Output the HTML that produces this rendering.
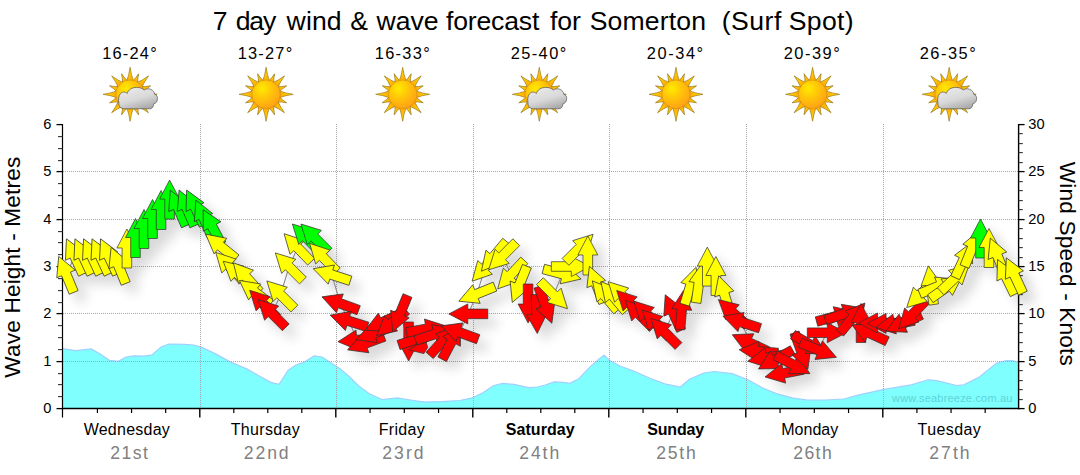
<!DOCTYPE html>
<html><head><meta charset="utf-8"><title>7 day wind & wave forecast</title>
<style>
html,body{margin:0;padding:0;background:#fff;}
body{width:1080px;height:475px;overflow:hidden;position:relative;font-family:"Liberation Sans",sans-serif;}
svg{position:absolute;left:0;top:0;}
text{font-family:"Liberation Sans",sans-serif;}
</style></head><body>
<svg width="1080" height="475" viewBox="0 0 1080 475">
<defs>
<radialGradient id="sung" cx="0.36" cy="0.30" r="0.78">
<stop offset="0" stop-color="#ffea00"/><stop offset="0.4" stop-color="#ffc808"/><stop offset="1" stop-color="#ff9c18"/>
</radialGradient>
<linearGradient id="ray" x1="0" y1="1" x2="0" y2="0">
<stop offset="0" stop-color="#ffa800"/><stop offset="1" stop-color="#ffe000"/>
</linearGradient>
<linearGradient id="cloudg" x1="0.2" y1="0" x2="0.7" y2="1">
<stop offset="0" stop-color="#ebebeb"/><stop offset="0.55" stop-color="#d8d8d8"/><stop offset="1" stop-color="#a8a8a8"/>
</linearGradient>
<filter id="sh" x="-5%" y="-20%" width="110%" height="150%">
<feGaussianBlur in="SourceAlpha" stdDeviation="6" result="b"/>
<feOffset in="b" dx="9" dy="9" result="o"/>
<feComponentTransfer in="o" result="s"><feFuncA type="linear" slope="0.15"/></feComponentTransfer>
<feMerge><feMergeNode in="s"/><feMergeNode in="SourceGraphic"/></feMerge>
</filter>
</defs>
<rect width="1080" height="475" fill="#fff"/>

<polygon points="63,408.5 63,348.7 62.6,348.7 75.6,350.7 91.1,348.9 100.2,353.9 109.3,360.3 118.3,361.4 126.1,357.2 133.9,355.9 144.3,356.2 152,354.9 161.1,346.9 168.9,344 184.5,344.3 193.5,345 201.3,347.1 215.6,353.9 231.1,362.4 246.7,368.9 259.6,376.2 271.3,382.6 279.1,384.4 288.2,370.2 295.9,365 303.7,362.4 314.1,355.9 321.9,357 330.9,362.7 340.4,368.9 349.4,376.7 358.5,385.7 368.9,393.5 381.9,399.5 397.4,397.9 410.4,400 424.6,402.1 441.5,401.6 459.6,400.5 471.3,398.2 483,392.7 493.3,385.7 502.4,383.4 514.1,384.4 528.3,387.6 537.4,387 545.2,385 554.3,381.9 563.3,382.4 569.8,383.4 578.9,378.7 589.3,367.6 599.6,358.5 604.1,355.2 610.4,361.1 620.7,366.3 633.7,371 649.3,378 664.8,383.9 680.4,387 689.4,379.3 703.7,373 714.1,371.5 732.2,373.6 747.8,379.8 763.3,388.3 776.3,393.5 791.9,397.9 807.4,400 825.6,400 843.7,399 859.3,394.8 882.7,389.7 911.2,384.9 928.2,379.8 936.7,380.6 956.6,385.5 963.8,384.9 979.4,377 996.4,363.3 1006.4,360.5 1013.5,360.8 1018.5,362.7 1018.3,408.5" fill="#80ffff"/>
<polyline points="62.6,348.7 75.6,350.7 91.1,348.9 100.2,353.9 109.3,360.3 118.3,361.4 126.1,357.2 133.9,355.9 144.3,356.2 152,354.9 161.1,346.9 168.9,344 184.5,344.3 193.5,345 201.3,347.1 215.6,353.9 231.1,362.4 246.7,368.9 259.6,376.2 271.3,382.6 279.1,384.4 288.2,370.2 295.9,365 303.7,362.4 314.1,355.9 321.9,357 330.9,362.7 340.4,368.9 349.4,376.7 358.5,385.7 368.9,393.5 381.9,399.5 397.4,397.9 410.4,400 424.6,402.1 441.5,401.6 459.6,400.5 471.3,398.2 483,392.7 493.3,385.7 502.4,383.4 514.1,384.4 528.3,387.6 537.4,387 545.2,385 554.3,381.9 563.3,382.4 569.8,383.4 578.9,378.7 589.3,367.6 599.6,358.5 604.1,355.2 610.4,361.1 620.7,366.3 633.7,371 649.3,378 664.8,383.9 680.4,387 689.4,379.3 703.7,373 714.1,371.5 732.2,373.6 747.8,379.8 763.3,388.3 776.3,393.5 791.9,397.9 807.4,400 825.6,400 843.7,399 859.3,394.8 882.7,389.7 911.2,384.9 928.2,379.8 936.7,380.6 956.6,385.5 963.8,384.9 979.4,377 996.4,363.3 1006.4,360.5 1013.5,360.8 1018.5,362.7" fill="none" stroke="#9fd0ff" stroke-width="1.2"/>
<text x="892.02" y="402" font-size="11" textLength="120.40" lengthAdjust="spacing" fill="#5fd3d8">www.seabreeze.com.au</text>
<line x1="63" y1="361.5" x2="1018" y2="361.5" stroke="#a8a8a8" stroke-width="1" stroke-dasharray="1 1"/>
<line x1="63" y1="313.5" x2="1018" y2="313.5" stroke="#a8a8a8" stroke-width="1" stroke-dasharray="1 1"/>
<line x1="63" y1="266.5" x2="1018" y2="266.5" stroke="#a8a8a8" stroke-width="1" stroke-dasharray="1 1"/>
<line x1="63" y1="219.5" x2="1018" y2="219.5" stroke="#a8a8a8" stroke-width="1" stroke-dasharray="1 1"/>
<line x1="63" y1="171.5" x2="1018" y2="171.5" stroke="#a8a8a8" stroke-width="1" stroke-dasharray="1 1"/>
<line x1="200.5" y1="124" x2="200.5" y2="408" stroke="#a8a8a8" stroke-width="1" stroke-dasharray="1 1"/>
<line x1="336.5" y1="124" x2="336.5" y2="408" stroke="#a8a8a8" stroke-width="1" stroke-dasharray="1 1"/>
<line x1="473.5" y1="124" x2="473.5" y2="408" stroke="#a8a8a8" stroke-width="1" stroke-dasharray="1 1"/>
<line x1="609.5" y1="124" x2="609.5" y2="408" stroke="#a8a8a8" stroke-width="1" stroke-dasharray="1 1"/>
<line x1="746.5" y1="124" x2="746.5" y2="408" stroke="#a8a8a8" stroke-width="1" stroke-dasharray="1 1"/>
<line x1="883.5" y1="124" x2="883.5" y2="408" stroke="#a8a8a8" stroke-width="1" stroke-dasharray="1 1"/>
<line x1="62.5" y1="124.0" x2="62.5" y2="417.5" stroke="#000" stroke-width="1.2"/>
<line x1="1018.6" y1="124.0" x2="1018.6" y2="409.2" stroke="#000" stroke-width="1.4"/>
<line x1="61.8" y1="408.5" x2="1019.3000000000001" y2="408.5" stroke="#000" stroke-width="1.5"/>
<line x1="56.5" y1="408.6" x2="62.5" y2="408.6" stroke="#000" stroke-width="1.3"/>
<text x="51.5" y="412.9" font-size="14.67" text-anchor="end" fill="#000">0</text>
<line x1="58.0" y1="396.6" x2="62.5" y2="396.6" stroke="#333" stroke-width="1.1"/>
<line x1="58.0" y1="384.6" x2="62.5" y2="384.6" stroke="#333" stroke-width="1.1"/>
<line x1="58.0" y1="373.6" x2="62.5" y2="373.6" stroke="#333" stroke-width="1.1"/>
<line x1="56.5" y1="361.6" x2="62.5" y2="361.6" stroke="#000" stroke-width="1.3"/>
<text x="51.5" y="365.9" font-size="14.67" text-anchor="end" fill="#000">1</text>
<line x1="58.0" y1="349.6" x2="62.5" y2="349.6" stroke="#333" stroke-width="1.1"/>
<line x1="58.0" y1="337.6" x2="62.5" y2="337.6" stroke="#333" stroke-width="1.1"/>
<line x1="58.0" y1="325.6" x2="62.5" y2="325.6" stroke="#333" stroke-width="1.1"/>
<line x1="56.5" y1="313.6" x2="62.5" y2="313.6" stroke="#000" stroke-width="1.3"/>
<text x="51.5" y="317.9" font-size="14.67" text-anchor="end" fill="#000">2</text>
<line x1="58.0" y1="302.6" x2="62.5" y2="302.6" stroke="#333" stroke-width="1.1"/>
<line x1="58.0" y1="290.6" x2="62.5" y2="290.6" stroke="#333" stroke-width="1.1"/>
<line x1="58.0" y1="278.6" x2="62.5" y2="278.6" stroke="#333" stroke-width="1.1"/>
<line x1="56.5" y1="266.6" x2="62.5" y2="266.6" stroke="#000" stroke-width="1.3"/>
<text x="51.5" y="270.9" font-size="14.67" text-anchor="end" fill="#000">3</text>
<line x1="58.0" y1="254.6" x2="62.5" y2="254.6" stroke="#333" stroke-width="1.1"/>
<line x1="58.0" y1="242.6" x2="62.5" y2="242.6" stroke="#333" stroke-width="1.1"/>
<line x1="58.0" y1="231.6" x2="62.5" y2="231.6" stroke="#333" stroke-width="1.1"/>
<line x1="56.5" y1="219.6" x2="62.5" y2="219.6" stroke="#000" stroke-width="1.3"/>
<text x="51.5" y="223.9" font-size="14.67" text-anchor="end" fill="#000">4</text>
<line x1="58.0" y1="207.6" x2="62.5" y2="207.6" stroke="#333" stroke-width="1.1"/>
<line x1="58.0" y1="195.6" x2="62.5" y2="195.6" stroke="#333" stroke-width="1.1"/>
<line x1="58.0" y1="183.6" x2="62.5" y2="183.6" stroke="#333" stroke-width="1.1"/>
<line x1="56.5" y1="171.6" x2="62.5" y2="171.6" stroke="#000" stroke-width="1.3"/>
<text x="51.5" y="175.9" font-size="14.67" text-anchor="end" fill="#000">5</text>
<line x1="58.0" y1="160.6" x2="62.5" y2="160.6" stroke="#333" stroke-width="1.1"/>
<line x1="58.0" y1="148.6" x2="62.5" y2="148.6" stroke="#333" stroke-width="1.1"/>
<line x1="58.0" y1="136.6" x2="62.5" y2="136.6" stroke="#333" stroke-width="1.1"/>
<line x1="56.5" y1="124.6" x2="62.5" y2="124.6" stroke="#000" stroke-width="1.3"/>
<text x="51.5" y="128.9" font-size="14.67" text-anchor="end" fill="#000">6</text>
<line x1="1018.6" y1="408.6" x2="1024.6" y2="408.6" stroke="#000" stroke-width="1.3"/>
<text x="1028.3" y="412.9" font-size="14.67" fill="#000">0</text>
<line x1="1018.6" y1="399.6" x2="1022.8000000000001" y2="399.6" stroke="#333" stroke-width="1.1"/>
<line x1="1018.6" y1="389.6" x2="1022.8000000000001" y2="389.6" stroke="#333" stroke-width="1.1"/>
<line x1="1018.6" y1="380.6" x2="1022.8000000000001" y2="380.6" stroke="#333" stroke-width="1.1"/>
<line x1="1018.6" y1="370.6" x2="1022.8000000000001" y2="370.6" stroke="#333" stroke-width="1.1"/>
<line x1="1018.6" y1="361.6" x2="1024.6" y2="361.6" stroke="#000" stroke-width="1.3"/>
<text x="1028.3" y="365.9" font-size="14.67" fill="#000">5</text>
<line x1="1018.6" y1="351.6" x2="1022.8000000000001" y2="351.6" stroke="#333" stroke-width="1.1"/>
<line x1="1018.6" y1="342.6" x2="1022.8000000000001" y2="342.6" stroke="#333" stroke-width="1.1"/>
<line x1="1018.6" y1="332.6" x2="1022.8000000000001" y2="332.6" stroke="#333" stroke-width="1.1"/>
<line x1="1018.6" y1="323.6" x2="1022.8000000000001" y2="323.6" stroke="#333" stroke-width="1.1"/>
<line x1="1018.6" y1="313.6" x2="1024.6" y2="313.6" stroke="#000" stroke-width="1.3"/>
<text x="1028.3" y="317.9" font-size="14.67" fill="#000">10</text>
<line x1="1018.6" y1="304.6" x2="1022.8000000000001" y2="304.6" stroke="#333" stroke-width="1.1"/>
<line x1="1018.6" y1="294.6" x2="1022.8000000000001" y2="294.6" stroke="#333" stroke-width="1.1"/>
<line x1="1018.6" y1="285.6" x2="1022.8000000000001" y2="285.6" stroke="#333" stroke-width="1.1"/>
<line x1="1018.6" y1="275.6" x2="1022.8000000000001" y2="275.6" stroke="#333" stroke-width="1.1"/>
<line x1="1018.6" y1="266.6" x2="1024.6" y2="266.6" stroke="#000" stroke-width="1.3"/>
<text x="1028.3" y="270.9" font-size="14.67" fill="#000">15</text>
<line x1="1018.6" y1="257.6" x2="1022.8000000000001" y2="257.6" stroke="#333" stroke-width="1.1"/>
<line x1="1018.6" y1="247.6" x2="1022.8000000000001" y2="247.6" stroke="#333" stroke-width="1.1"/>
<line x1="1018.6" y1="238.6" x2="1022.8000000000001" y2="238.6" stroke="#333" stroke-width="1.1"/>
<line x1="1018.6" y1="228.6" x2="1022.8000000000001" y2="228.6" stroke="#333" stroke-width="1.1"/>
<line x1="1018.6" y1="219.6" x2="1024.6" y2="219.6" stroke="#000" stroke-width="1.3"/>
<text x="1028.3" y="223.9" font-size="14.67" fill="#000">20</text>
<line x1="1018.6" y1="209.6" x2="1022.8000000000001" y2="209.6" stroke="#333" stroke-width="1.1"/>
<line x1="1018.6" y1="200.6" x2="1022.8000000000001" y2="200.6" stroke="#333" stroke-width="1.1"/>
<line x1="1018.6" y1="190.6" x2="1022.8000000000001" y2="190.6" stroke="#333" stroke-width="1.1"/>
<line x1="1018.6" y1="181.6" x2="1022.8000000000001" y2="181.6" stroke="#333" stroke-width="1.1"/>
<line x1="1018.6" y1="171.6" x2="1024.6" y2="171.6" stroke="#000" stroke-width="1.3"/>
<text x="1028.3" y="175.9" font-size="14.67" fill="#000">25</text>
<line x1="1018.6" y1="162.6" x2="1022.8000000000001" y2="162.6" stroke="#333" stroke-width="1.1"/>
<line x1="1018.6" y1="152.6" x2="1022.8000000000001" y2="152.6" stroke="#333" stroke-width="1.1"/>
<line x1="1018.6" y1="143.6" x2="1022.8000000000001" y2="143.6" stroke="#333" stroke-width="1.1"/>
<line x1="1018.6" y1="133.6" x2="1022.8000000000001" y2="133.6" stroke="#333" stroke-width="1.1"/>
<line x1="1018.6" y1="124.6" x2="1024.6" y2="124.6" stroke="#000" stroke-width="1.3"/>
<text x="1028.3" y="128.9" font-size="14.67" fill="#000">30</text>
<line x1="97.425" y1="408.5" x2="97.425" y2="413.0" stroke="#000" stroke-width="1.2"/>
<line x1="131.55" y1="408.5" x2="131.55" y2="413.0" stroke="#000" stroke-width="1.2"/>
<line x1="165.675" y1="408.5" x2="165.675" y2="413.0" stroke="#000" stroke-width="1.2"/>
<line x1="199.8" y1="408.5" x2="199.8" y2="417.5" stroke="#000" stroke-width="1.4"/>
<line x1="233.8" y1="408.5" x2="233.8" y2="413.0" stroke="#000" stroke-width="1.2"/>
<line x1="267.8" y1="408.5" x2="267.8" y2="413.0" stroke="#000" stroke-width="1.2"/>
<line x1="301.8" y1="408.5" x2="301.8" y2="413.0" stroke="#000" stroke-width="1.2"/>
<line x1="335.8" y1="408.5" x2="335.8" y2="417.5" stroke="#000" stroke-width="1.4"/>
<line x1="370.05" y1="408.5" x2="370.05" y2="413.0" stroke="#000" stroke-width="1.2"/>
<line x1="404.3" y1="408.5" x2="404.3" y2="413.0" stroke="#000" stroke-width="1.2"/>
<line x1="438.55" y1="408.5" x2="438.55" y2="413.0" stroke="#000" stroke-width="1.2"/>
<line x1="472.8" y1="408.5" x2="472.8" y2="417.5" stroke="#000" stroke-width="1.4"/>
<line x1="506.8" y1="408.5" x2="506.8" y2="413.0" stroke="#000" stroke-width="1.2"/>
<line x1="540.8" y1="408.5" x2="540.8" y2="413.0" stroke="#000" stroke-width="1.2"/>
<line x1="574.8" y1="408.5" x2="574.8" y2="413.0" stroke="#000" stroke-width="1.2"/>
<line x1="608.8" y1="408.5" x2="608.8" y2="417.5" stroke="#000" stroke-width="1.4"/>
<line x1="643.05" y1="408.5" x2="643.05" y2="413.0" stroke="#000" stroke-width="1.2"/>
<line x1="677.3" y1="408.5" x2="677.3" y2="413.0" stroke="#000" stroke-width="1.2"/>
<line x1="711.55" y1="408.5" x2="711.55" y2="413.0" stroke="#000" stroke-width="1.2"/>
<line x1="745.8" y1="408.5" x2="745.8" y2="417.5" stroke="#000" stroke-width="1.4"/>
<line x1="780.05" y1="408.5" x2="780.05" y2="413.0" stroke="#000" stroke-width="1.2"/>
<line x1="814.3" y1="408.5" x2="814.3" y2="413.0" stroke="#000" stroke-width="1.2"/>
<line x1="848.55" y1="408.5" x2="848.55" y2="413.0" stroke="#000" stroke-width="1.2"/>
<line x1="882.8" y1="408.5" x2="882.8" y2="417.5" stroke="#000" stroke-width="1.4"/>
<line x1="916.925" y1="408.5" x2="916.925" y2="413.0" stroke="#000" stroke-width="1.2"/>
<line x1="951.05" y1="408.5" x2="951.05" y2="413.0" stroke="#000" stroke-width="1.2"/>
<line x1="985.175" y1="408.5" x2="985.175" y2="413.0" stroke="#000" stroke-width="1.2"/>
<g filter="url(#sh)">
<polyline points="66.2,274.4 74.7,256.5 83.2,256.5 91.8,256.5 100.3,256.5 108.8,256.5 118.4,265.4 126.9,248.5 135.5,238.0 144.0,229.0 152.5,219.0 161.1,210.0 169.6,199.6 178.1,208.0 186.7,208.0 195.2,207.6 203.7,218.0 212.3,226.9 220.8,246.4 229.3,266.4 237.9,274.1 246.4,277.3 255.0,292.2 263.5,304.1 272.0,313.5 280.6,294.7 289.1,266.7 297.6,247.7 306.2,237.8 314.7,237.8 323.2,257.4 331.8,274.7 340.3,303.5 348.8,321.0 357.4,340.0 365.9,343.2 374.5,333.0 383.0,322.0 391.5,323.0 400.1,313.6 408.6,341.5 417.1,339.0 425.7,329.0 434.2,334.3 442.7,340.9 451.3,342.0 459.8,332.5 468.3,313.9 476.9,293.9 485.4,267.0 493.9,256.3 502.5,256.0 511.0,274.6 519.6,284.3 528.1,303.5 536.6,314.0 545.2,304.9 553.7,294.9 562.2,274.0 570.8,266.5 579.3,248.1 587.8,255.5 596.4,284.5 604.9,295.8 613.4,296.5 622.0,295.5 630.5,304.3 639.1,314.2 647.6,314.9 656.1,323.8 664.7,332.2 673.2,312.6 681.7,310.0 690.3,286.0 698.8,283.5 707.3,266.6 715.9,276.0 724.4,294.4 732.9,312.6 741.5,322.2 750.0,343.0 758.6,351.4 767.1,357.8 775.6,359.5 784.2,373.2 792.7,364.5 801.2,351.0 809.8,344.5 818.3,350.0 826.8,332.7 835.4,316.5 843.9,314.0 852.4,318.0 861.0,323.0 869.5,333.0 878.1,323.0 886.6,323.4 895.1,324.0 903.7,323.0 912.2,314.6 920.7,294.0 931.0,285.2 937.8,286.5 946.3,287.5 954.9,278.0 963.4,260.0 971.9,248.5 980.5,238.5 989.0,248.0 997.6,256.2 1006.1,277.0 1014.6,275.5" fill="none" stroke="#8a8a8a" stroke-width="1.1"/>
<path d="M0,-19.5 L10,-0.5 L4.8,-0.5 L4.8,19.5 L-4.8,19.5 L-4.8,-0.5 L-10,-0.5 Z" transform="translate(66.2,274.4) rotate(-22.6)" fill="#ffff00" stroke="#303030" stroke-width="0.7" stroke-linejoin="miter"/>
<path d="M0,-19.5 L10,-0.5 L4.8,-0.5 L4.8,19.5 L-4.8,19.5 L-4.8,-0.5 L-10,-0.5 Z" transform="translate(74.7,256.5) rotate(-25)" fill="#ffff00" stroke="#303030" stroke-width="0.7" stroke-linejoin="miter"/>
<path d="M0,-19.5 L10,-0.5 L4.8,-0.5 L4.8,19.5 L-4.8,19.5 L-4.8,-0.5 L-10,-0.5 Z" transform="translate(83.2,256.5) rotate(-25)" fill="#ffff00" stroke="#303030" stroke-width="0.7" stroke-linejoin="miter"/>
<path d="M0,-19.5 L10,-0.5 L4.8,-0.5 L4.8,19.5 L-4.8,19.5 L-4.8,-0.5 L-10,-0.5 Z" transform="translate(91.8,256.5) rotate(-25)" fill="#ffff00" stroke="#303030" stroke-width="0.7" stroke-linejoin="miter"/>
<path d="M0,-19.5 L10,-0.5 L4.8,-0.5 L4.8,19.5 L-4.8,19.5 L-4.8,-0.5 L-10,-0.5 Z" transform="translate(100.3,256.5) rotate(-25)" fill="#ffff00" stroke="#303030" stroke-width="0.7" stroke-linejoin="miter"/>
<path d="M0,-19.5 L10,-0.5 L4.8,-0.5 L4.8,19.5 L-4.8,19.5 L-4.8,-0.5 L-10,-0.5 Z" transform="translate(108.8,256.5) rotate(-25)" fill="#ffff00" stroke="#303030" stroke-width="0.7" stroke-linejoin="miter"/>
<path d="M0,-19.5 L10,-0.5 L4.8,-0.5 L4.8,19.5 L-4.8,19.5 L-4.8,-0.5 L-10,-0.5 Z" transform="translate(118.4,265.4) rotate(-22)" fill="#ffff00" stroke="#303030" stroke-width="0.7" stroke-linejoin="miter"/>
<path d="M0,-19.5 L10,-0.5 L4.8,-0.5 L4.8,19.5 L-4.8,19.5 L-4.8,-0.5 L-10,-0.5 Z" transform="translate(126.9,248.5) rotate(0)" fill="#ffff00" stroke="#303030" stroke-width="0.7" stroke-linejoin="miter"/>
<path d="M0,-19.5 L10,-0.5 L4.8,-0.5 L4.8,19.5 L-4.8,19.5 L-4.8,-0.5 L-10,-0.5 Z" transform="translate(135.5,238.0) rotate(0)" fill="#00ff00" stroke="#303030" stroke-width="0.7" stroke-linejoin="miter"/>
<path d="M0,-19.5 L10,-0.5 L4.8,-0.5 L4.8,19.5 L-4.8,19.5 L-4.8,-0.5 L-10,-0.5 Z" transform="translate(144.0,229.0) rotate(0)" fill="#00ff00" stroke="#303030" stroke-width="0.7" stroke-linejoin="miter"/>
<path d="M0,-19.5 L10,-0.5 L4.8,-0.5 L4.8,19.5 L-4.8,19.5 L-4.8,-0.5 L-10,-0.5 Z" transform="translate(152.5,219.0) rotate(0)" fill="#00ff00" stroke="#303030" stroke-width="0.7" stroke-linejoin="miter"/>
<path d="M0,-19.5 L10,-0.5 L4.8,-0.5 L4.8,19.5 L-4.8,19.5 L-4.8,-0.5 L-10,-0.5 Z" transform="translate(161.1,210.0) rotate(0)" fill="#00ff00" stroke="#303030" stroke-width="0.7" stroke-linejoin="miter"/>
<path d="M0,-19.5 L10,-0.5 L4.8,-0.5 L4.8,19.5 L-4.8,19.5 L-4.8,-0.5 L-10,-0.5 Z" transform="translate(169.6,199.6) rotate(0)" fill="#00ff00" stroke="#303030" stroke-width="0.7" stroke-linejoin="miter"/>
<path d="M0,-19.5 L10,-0.5 L4.8,-0.5 L4.8,19.5 L-4.8,19.5 L-4.8,-0.5 L-10,-0.5 Z" transform="translate(178.1,208.0) rotate(-23.6)" fill="#00ff00" stroke="#303030" stroke-width="0.7" stroke-linejoin="miter"/>
<path d="M0,-19.5 L10,-0.5 L4.8,-0.5 L4.8,19.5 L-4.8,19.5 L-4.8,-0.5 L-10,-0.5 Z" transform="translate(186.7,208.0) rotate(-23)" fill="#00ff00" stroke="#303030" stroke-width="0.7" stroke-linejoin="miter"/>
<path d="M0,-19.5 L10,-0.5 L4.8,-0.5 L4.8,19.5 L-4.8,19.5 L-4.8,-0.5 L-10,-0.5 Z" transform="translate(195.2,207.6) rotate(-26)" fill="#00ff00" stroke="#303030" stroke-width="0.7" stroke-linejoin="miter"/>
<path d="M0,-19.5 L10,-0.5 L4.8,-0.5 L4.8,19.5 L-4.8,19.5 L-4.8,-0.5 L-10,-0.5 Z" transform="translate(203.7,218.0) rotate(-23.6)" fill="#00ff00" stroke="#303030" stroke-width="0.7" stroke-linejoin="miter"/>
<path d="M0,-19.5 L10,-0.5 L4.8,-0.5 L4.8,19.5 L-4.8,19.5 L-4.8,-0.5 L-10,-0.5 Z" transform="translate(212.3,226.9) rotate(-28)" fill="#00ff00" stroke="#303030" stroke-width="0.7" stroke-linejoin="miter"/>
<path d="M0,-19.5 L10,-0.5 L4.8,-0.5 L4.8,19.5 L-4.8,19.5 L-4.8,-0.5 L-10,-0.5 Z" transform="translate(220.8,246.4) rotate(-51)" fill="#ffff00" stroke="#303030" stroke-width="0.7" stroke-linejoin="miter"/>
<path d="M0,-19.5 L10,-0.5 L4.8,-0.5 L4.8,19.5 L-4.8,19.5 L-4.8,-0.5 L-10,-0.5 Z" transform="translate(229.3,266.4) rotate(-44)" fill="#ffff00" stroke="#303030" stroke-width="0.7" stroke-linejoin="miter"/>
<path d="M0,-19.5 L10,-0.5 L4.8,-0.5 L4.8,19.5 L-4.8,19.5 L-4.8,-0.5 L-10,-0.5 Z" transform="translate(237.9,274.1) rotate(-49)" fill="#ffff00" stroke="#303030" stroke-width="0.7" stroke-linejoin="miter"/>
<path d="M0,-19.5 L10,-0.5 L4.8,-0.5 L4.8,19.5 L-4.8,19.5 L-4.8,-0.5 L-10,-0.5 Z" transform="translate(246.4,277.3) rotate(-42)" fill="#ffff00" stroke="#303030" stroke-width="0.7" stroke-linejoin="miter"/>
<path d="M0,-19.5 L10,-0.5 L4.8,-0.5 L4.8,19.5 L-4.8,19.5 L-4.8,-0.5 L-10,-0.5 Z" transform="translate(255.0,292.2) rotate(-53)" fill="#ffff00" stroke="#303030" stroke-width="0.7" stroke-linejoin="miter"/>
<path d="M0,-19.5 L10,-0.5 L4.8,-0.5 L4.8,19.5 L-4.8,19.5 L-4.8,-0.5 L-10,-0.5 Z" transform="translate(263.5,304.1) rotate(-45)" fill="#ff0000" stroke="#303030" stroke-width="0.7" stroke-linejoin="miter"/>
<path d="M0,-19.5 L10,-0.5 L4.8,-0.5 L4.8,19.5 L-4.8,19.5 L-4.8,-0.5 L-10,-0.5 Z" transform="translate(272.0,313.5) rotate(-45)" fill="#ff0000" stroke="#303030" stroke-width="0.7" stroke-linejoin="miter"/>
<path d="M0,-19.5 L10,-0.5 L4.8,-0.5 L4.8,19.5 L-4.8,19.5 L-4.8,-0.5 L-10,-0.5 Z" transform="translate(280.6,294.7) rotate(-45)" fill="#ffff00" stroke="#303030" stroke-width="0.7" stroke-linejoin="miter"/>
<path d="M0,-19.5 L10,-0.5 L4.8,-0.5 L4.8,19.5 L-4.8,19.5 L-4.8,-0.5 L-10,-0.5 Z" transform="translate(289.1,266.7) rotate(-45)" fill="#ffff00" stroke="#303030" stroke-width="0.7" stroke-linejoin="miter"/>
<path d="M0,-19.5 L10,-0.5 L4.8,-0.5 L4.8,19.5 L-4.8,19.5 L-4.8,-0.5 L-10,-0.5 Z" transform="translate(297.6,247.7) rotate(-44)" fill="#ffff00" stroke="#303030" stroke-width="0.7" stroke-linejoin="miter"/>
<path d="M0,-19.5 L10,-0.5 L4.8,-0.5 L4.8,19.5 L-4.8,19.5 L-4.8,-0.5 L-10,-0.5 Z" transform="translate(306.2,237.8) rotate(-45)" fill="#00ff00" stroke="#303030" stroke-width="0.7" stroke-linejoin="miter"/>
<path d="M0,-19.5 L10,-0.5 L4.8,-0.5 L4.8,19.5 L-4.8,19.5 L-4.8,-0.5 L-10,-0.5 Z" transform="translate(314.7,237.8) rotate(-45)" fill="#00ff00" stroke="#303030" stroke-width="0.7" stroke-linejoin="miter"/>
<path d="M0,-19.5 L10,-0.5 L4.8,-0.5 L4.8,19.5 L-4.8,19.5 L-4.8,-0.5 L-10,-0.5 Z" transform="translate(323.2,257.4) rotate(-44)" fill="#ffff00" stroke="#303030" stroke-width="0.7" stroke-linejoin="miter"/>
<path d="M0,-19.5 L10,-0.5 L4.8,-0.5 L4.8,19.5 L-4.8,19.5 L-4.8,-0.5 L-10,-0.5 Z" transform="translate(331.8,274.7) rotate(-72)" fill="#ffff00" stroke="#303030" stroke-width="0.7" stroke-linejoin="miter"/>
<path d="M0,-19.5 L10,-0.5 L4.8,-0.5 L4.8,19.5 L-4.8,19.5 L-4.8,-0.5 L-10,-0.5 Z" transform="translate(340.3,303.5) rotate(-70)" fill="#ff0000" stroke="#303030" stroke-width="0.7" stroke-linejoin="miter"/>
<path d="M0,-19.5 L10,-0.5 L4.8,-0.5 L4.8,19.5 L-4.8,19.5 L-4.8,-0.5 L-10,-0.5 Z" transform="translate(348.8,321.0) rotate(-72.6)" fill="#ff0000" stroke="#303030" stroke-width="0.7" stroke-linejoin="miter"/>
<path d="M0,-19.5 L10,-0.5 L4.8,-0.5 L4.8,19.5 L-4.8,19.5 L-4.8,-0.5 L-10,-0.5 Z" transform="translate(357.4,340.0) rotate(-95)" fill="#ff0000" stroke="#303030" stroke-width="0.7" stroke-linejoin="miter"/>
<path d="M0,-19.5 L10,-0.5 L4.8,-0.5 L4.8,19.5 L-4.8,19.5 L-4.8,-0.5 L-10,-0.5 Z" transform="translate(365.9,343.2) rotate(-110)" fill="#ff0000" stroke="#303030" stroke-width="0.7" stroke-linejoin="miter"/>
<path d="M0,-19.5 L10,-0.5 L4.8,-0.5 L4.8,19.5 L-4.8,19.5 L-4.8,-0.5 L-10,-0.5 Z" transform="translate(374.5,333.0) rotate(-110)" fill="#ff0000" stroke="#303030" stroke-width="0.7" stroke-linejoin="miter"/>
<path d="M0,-19.5 L10,-0.5 L4.8,-0.5 L4.8,19.5 L-4.8,19.5 L-4.8,-0.5 L-10,-0.5 Z" transform="translate(383.0,322.0) rotate(-115)" fill="#ff0000" stroke="#303030" stroke-width="0.7" stroke-linejoin="miter"/>
<path d="M0,-19.5 L10,-0.5 L4.8,-0.5 L4.8,19.5 L-4.8,19.5 L-4.8,-0.5 L-10,-0.5 Z" transform="translate(391.5,323.0) rotate(-130)" fill="#ff0000" stroke="#303030" stroke-width="0.7" stroke-linejoin="miter"/>
<path d="M0,-19.5 L10,-0.5 L4.8,-0.5 L4.8,19.5 L-4.8,19.5 L-4.8,-0.5 L-10,-0.5 Z" transform="translate(400.1,313.6) rotate(-157.7)" fill="#ff0000" stroke="#303030" stroke-width="0.7" stroke-linejoin="miter"/>
<path d="M0,-19.5 L10,-0.5 L4.8,-0.5 L4.8,19.5 L-4.8,19.5 L-4.8,-0.5 L-10,-0.5 Z" transform="translate(408.6,341.5) rotate(180)" fill="#ff0000" stroke="#303030" stroke-width="0.7" stroke-linejoin="miter"/>
<path d="M0,-19.5 L10,-0.5 L4.8,-0.5 L4.8,19.5 L-4.8,19.5 L-4.8,-0.5 L-10,-0.5 Z" transform="translate(417.1,339.0) rotate(72)" fill="#ff0000" stroke="#303030" stroke-width="0.7" stroke-linejoin="miter"/>
<polygon points="408.7,349.9 416.3,345.1 426.3,342.3 427.7,347.5 423.9,353.6" fill="#ff0000" stroke="#303030" stroke-width="0.7"/>
<path d="M0,-19.5 L10,-0.5 L4.8,-0.5 L4.8,19.5 L-4.8,19.5 L-4.8,-0.5 L-10,-0.5 Z" transform="translate(425.7,329.0) rotate(80)" fill="#ff0000" stroke="#303030" stroke-width="0.7" stroke-linejoin="miter"/>
<path d="M0,-19.5 L10,-0.5 L4.8,-0.5 L4.8,19.5 L-4.8,19.5 L-4.8,-0.5 L-10,-0.5 Z" transform="translate(434.2,334.3) rotate(72)" fill="#ff0000" stroke="#303030" stroke-width="0.7" stroke-linejoin="miter"/>
<path d="M0,-19.5 L10,-0.5 L4.8,-0.5 L4.8,19.5 L-4.8,19.5 L-4.8,-0.5 L-10,-0.5 Z" transform="translate(442.7,340.9) rotate(42)" fill="#ff0000" stroke="#303030" stroke-width="0.7" stroke-linejoin="miter"/>
<path d="M0,-19.5 L10,-0.5 L4.8,-0.5 L4.8,19.5 L-4.8,19.5 L-4.8,-0.5 L-10,-0.5 Z" transform="translate(451.3,342.0) rotate(28)" fill="#ff0000" stroke="#303030" stroke-width="0.7" stroke-linejoin="miter"/>
<path d="M0,-19.5 L10,-0.5 L4.8,-0.5 L4.8,19.5 L-4.8,19.5 L-4.8,-0.5 L-10,-0.5 Z" transform="translate(459.8,332.5) rotate(-70)" fill="#ff0000" stroke="#303030" stroke-width="0.7" stroke-linejoin="miter"/>
<path d="M0,-19.5 L10,-0.5 L4.8,-0.5 L4.8,19.5 L-4.8,19.5 L-4.8,-0.5 L-10,-0.5 Z" transform="translate(468.3,313.9) rotate(-90)" fill="#ff0000" stroke="#303030" stroke-width="0.7" stroke-linejoin="miter"/>
<path d="M0,-19.5 L10,-0.5 L4.8,-0.5 L4.8,19.5 L-4.8,19.5 L-4.8,-0.5 L-10,-0.5 Z" transform="translate(476.9,293.9) rotate(-112)" fill="#ffff00" stroke="#303030" stroke-width="0.7" stroke-linejoin="miter"/>
<path d="M0,-19.5 L10,-0.5 L4.8,-0.5 L4.8,19.5 L-4.8,19.5 L-4.8,-0.5 L-10,-0.5 Z" transform="translate(485.4,267.0) rotate(-137)" fill="#ffff00" stroke="#303030" stroke-width="0.7" stroke-linejoin="miter"/>
<path d="M0,-19.5 L10,-0.5 L4.8,-0.5 L4.8,19.5 L-4.8,19.5 L-4.8,-0.5 L-10,-0.5 Z" transform="translate(493.9,256.3) rotate(-140)" fill="#ffff00" stroke="#303030" stroke-width="0.7" stroke-linejoin="miter"/>
<path d="M0,-19.5 L10,-0.5 L4.8,-0.5 L4.8,19.5 L-4.8,19.5 L-4.8,-0.5 L-10,-0.5 Z" transform="translate(502.5,256.0) rotate(-135)" fill="#ffff00" stroke="#303030" stroke-width="0.7" stroke-linejoin="miter"/>
<path d="M0,-19.5 L10,-0.5 L4.8,-0.5 L4.8,19.5 L-4.8,19.5 L-4.8,-0.5 L-10,-0.5 Z" transform="translate(511.0,274.6) rotate(-137)" fill="#ffff00" stroke="#303030" stroke-width="0.7" stroke-linejoin="miter"/>
<path d="M0,-19.5 L10,-0.5 L4.8,-0.5 L4.8,19.5 L-4.8,19.5 L-4.8,-0.5 L-10,-0.5 Z" transform="translate(519.6,284.3) rotate(-158)" fill="#ffff00" stroke="#303030" stroke-width="0.7" stroke-linejoin="miter"/>
<path d="M0,-19.5 L10,-0.5 L4.8,-0.5 L4.8,19.5 L-4.8,19.5 L-4.8,-0.5 L-10,-0.5 Z" transform="translate(528.1,303.5) rotate(180)" fill="#ff0000" stroke="#303030" stroke-width="0.7" stroke-linejoin="miter"/>
<path d="M0,-19.5 L10,-0.5 L4.8,-0.5 L4.8,19.5 L-4.8,19.5 L-4.8,-0.5 L-10,-0.5 Z" transform="translate(536.6,314.0) rotate(178)" fill="#ff0000" stroke="#303030" stroke-width="0.7" stroke-linejoin="miter"/>
<path d="M0,-19.5 L10,-0.5 L4.8,-0.5 L4.8,19.5 L-4.8,19.5 L-4.8,-0.5 L-10,-0.5 Z" transform="translate(545.2,304.9) rotate(160)" fill="#ff0000" stroke="#303030" stroke-width="0.7" stroke-linejoin="miter"/>
<path d="M0,-19.5 L10,-0.5 L4.8,-0.5 L4.8,19.5 L-4.8,19.5 L-4.8,-0.5 L-10,-0.5 Z" transform="translate(553.7,294.9) rotate(135)" fill="#ffff00" stroke="#303030" stroke-width="0.7" stroke-linejoin="miter"/>
<path d="M0,-19.5 L10,-0.5 L4.8,-0.5 L4.8,19.5 L-4.8,19.5 L-4.8,-0.5 L-10,-0.5 Z" transform="translate(562.2,274.0) rotate(105)" fill="#ffff00" stroke="#303030" stroke-width="0.7" stroke-linejoin="miter"/>
<path d="M0,-19.5 L10,-0.5 L4.8,-0.5 L4.8,19.5 L-4.8,19.5 L-4.8,-0.5 L-10,-0.5 Z" transform="translate(570.8,266.5) rotate(90)" fill="#ffff00" stroke="#303030" stroke-width="0.7" stroke-linejoin="miter"/>
<path d="M0,-19.5 L10,-0.5 L4.8,-0.5 L4.8,19.5 L-4.8,19.5 L-4.8,-0.5 L-10,-0.5 Z" transform="translate(579.3,248.1) rotate(45)" fill="#ffff00" stroke="#303030" stroke-width="0.7" stroke-linejoin="miter"/>
<path d="M0,-19.5 L10,-0.5 L4.8,-0.5 L4.8,19.5 L-4.8,19.5 L-4.8,-0.5 L-10,-0.5 Z" transform="translate(587.8,255.5) rotate(0)" fill="#ffff00" stroke="#303030" stroke-width="0.7" stroke-linejoin="miter"/>
<path d="M0,-19.5 L10,-0.5 L4.8,-0.5 L4.8,19.5 L-4.8,19.5 L-4.8,-0.5 L-10,-0.5 Z" transform="translate(596.4,284.5) rotate(-21)" fill="#ffff00" stroke="#303030" stroke-width="0.7" stroke-linejoin="miter"/>
<path d="M0,-19.5 L10,-0.5 L4.8,-0.5 L4.8,19.5 L-4.8,19.5 L-4.8,-0.5 L-10,-0.5 Z" transform="translate(604.9,295.8) rotate(-40)" fill="#ffff00" stroke="#303030" stroke-width="0.7" stroke-linejoin="miter"/>
<path d="M0,-19.5 L10,-0.5 L4.8,-0.5 L4.8,19.5 L-4.8,19.5 L-4.8,-0.5 L-10,-0.5 Z" transform="translate(613.4,296.5) rotate(-40)" fill="#ffff00" stroke="#303030" stroke-width="0.7" stroke-linejoin="miter"/>
<path d="M0,-19.5 L10,-0.5 L4.8,-0.5 L4.8,19.5 L-4.8,19.5 L-4.8,-0.5 L-10,-0.5 Z" transform="translate(622.0,295.5) rotate(-45)" fill="#ffff00" stroke="#303030" stroke-width="0.7" stroke-linejoin="miter"/>
<path d="M0,-19.5 L10,-0.5 L4.8,-0.5 L4.8,19.5 L-4.8,19.5 L-4.8,-0.5 L-10,-0.5 Z" transform="translate(630.5,304.3) rotate(-45)" fill="#ff0000" stroke="#303030" stroke-width="0.7" stroke-linejoin="miter"/>
<path d="M0,-19.5 L10,-0.5 L4.8,-0.5 L4.8,19.5 L-4.8,19.5 L-4.8,-0.5 L-10,-0.5 Z" transform="translate(639.1,314.2) rotate(-45)" fill="#ff0000" stroke="#303030" stroke-width="0.7" stroke-linejoin="miter"/>
<path d="M0,-19.5 L10,-0.5 L4.8,-0.5 L4.8,19.5 L-4.8,19.5 L-4.8,-0.5 L-10,-0.5 Z" transform="translate(647.6,314.9) rotate(-45)" fill="#ff0000" stroke="#303030" stroke-width="0.7" stroke-linejoin="miter"/>
<path d="M0,-19.5 L10,-0.5 L4.8,-0.5 L4.8,19.5 L-4.8,19.5 L-4.8,-0.5 L-10,-0.5 Z" transform="translate(656.1,323.8) rotate(-45)" fill="#ff0000" stroke="#303030" stroke-width="0.7" stroke-linejoin="miter"/>
<path d="M0,-19.5 L10,-0.5 L4.8,-0.5 L4.8,19.5 L-4.8,19.5 L-4.8,-0.5 L-10,-0.5 Z" transform="translate(664.7,332.2) rotate(-45)" fill="#ff0000" stroke="#303030" stroke-width="0.7" stroke-linejoin="miter"/>
<path d="M0,-19.5 L10,-0.5 L4.8,-0.5 L4.8,19.5 L-4.8,19.5 L-4.8,-0.5 L-10,-0.5 Z" transform="translate(673.2,312.6) rotate(-24)" fill="#ff0000" stroke="#303030" stroke-width="0.7" stroke-linejoin="miter"/>
<path d="M0,-19.5 L10,-0.5 L4.8,-0.5 L4.8,19.5 L-4.8,19.5 L-4.8,-0.5 L-10,-0.5 Z" transform="translate(681.7,310.0) rotate(5)" fill="#ff0000" stroke="#303030" stroke-width="0.7" stroke-linejoin="miter"/>
<path d="M0,-19.5 L10,-0.5 L4.8,-0.5 L4.8,19.5 L-4.8,19.5 L-4.8,-0.5 L-10,-0.5 Z" transform="translate(690.3,286.0) rotate(17)" fill="#ffff00" stroke="#303030" stroke-width="0.7" stroke-linejoin="miter"/>
<path d="M0,-19.5 L10,-0.5 L4.8,-0.5 L4.8,19.5 L-4.8,19.5 L-4.8,-0.5 L-10,-0.5 Z" transform="translate(698.8,283.5) rotate(8)" fill="#ffff00" stroke="#303030" stroke-width="0.7" stroke-linejoin="miter"/>
<path d="M0,-19.5 L10,-0.5 L4.8,-0.5 L4.8,19.5 L-4.8,19.5 L-4.8,-0.5 L-10,-0.5 Z" transform="translate(707.3,266.6) rotate(0)" fill="#ffff00" stroke="#303030" stroke-width="0.7" stroke-linejoin="miter"/>
<path d="M0,-19.5 L10,-0.5 L4.8,-0.5 L4.8,19.5 L-4.8,19.5 L-4.8,-0.5 L-10,-0.5 Z" transform="translate(715.9,276.0) rotate(0)" fill="#ffff00" stroke="#303030" stroke-width="0.7" stroke-linejoin="miter"/>
<path d="M0,-19.5 L10,-0.5 L4.8,-0.5 L4.8,19.5 L-4.8,19.5 L-4.8,-0.5 L-10,-0.5 Z" transform="translate(724.4,294.4) rotate(-17)" fill="#ffff00" stroke="#303030" stroke-width="0.7" stroke-linejoin="miter"/>
<path d="M0,-19.5 L10,-0.5 L4.8,-0.5 L4.8,19.5 L-4.8,19.5 L-4.8,-0.5 L-10,-0.5 Z" transform="translate(732.9,312.6) rotate(-48)" fill="#ff0000" stroke="#303030" stroke-width="0.7" stroke-linejoin="miter"/>
<path d="M0,-19.5 L10,-0.5 L4.8,-0.5 L4.8,19.5 L-4.8,19.5 L-4.8,-0.5 L-10,-0.5 Z" transform="translate(741.5,322.2) rotate(-72)" fill="#ff0000" stroke="#303030" stroke-width="0.7" stroke-linejoin="miter"/>
<path d="M0,-19.5 L10,-0.5 L4.8,-0.5 L4.8,19.5 L-4.8,19.5 L-4.8,-0.5 L-10,-0.5 Z" transform="translate(750.0,343.0) rotate(-65)" fill="#ff0000" stroke="#303030" stroke-width="0.7" stroke-linejoin="miter"/>
<path d="M0,-19.5 L10,-0.5 L4.8,-0.5 L4.8,19.5 L-4.8,19.5 L-4.8,-0.5 L-10,-0.5 Z" transform="translate(758.6,351.4) rotate(-85)" fill="#ff0000" stroke="#303030" stroke-width="0.7" stroke-linejoin="miter"/>
<path d="M0,-19.5 L10,-0.5 L4.8,-0.5 L4.8,19.5 L-4.8,19.5 L-4.8,-0.5 L-10,-0.5 Z" transform="translate(767.1,357.8) rotate(-100)" fill="#ff0000" stroke="#303030" stroke-width="0.7" stroke-linejoin="miter"/>
<path d="M0,-19.5 L10,-0.5 L4.8,-0.5 L4.8,19.5 L-4.8,19.5 L-4.8,-0.5 L-10,-0.5 Z" transform="translate(775.6,359.5) rotate(-119)" fill="#ff0000" stroke="#303030" stroke-width="0.7" stroke-linejoin="miter"/>
<path d="M0,-19.5 L10,-0.5 L4.8,-0.5 L4.8,19.5 L-4.8,19.5 L-4.8,-0.5 L-10,-0.5 Z" transform="translate(784.2,373.2) rotate(-101)" fill="#ff0000" stroke="#303030" stroke-width="0.7" stroke-linejoin="miter"/>
<path d="M0,-19.5 L10,-0.5 L4.8,-0.5 L4.8,19.5 L-4.8,19.5 L-4.8,-0.5 L-10,-0.5 Z" transform="translate(792.7,364.5) rotate(118)" fill="#ff0000" stroke="#303030" stroke-width="0.7" stroke-linejoin="miter"/>
<path d="M0,-19.5 L10,-0.5 L4.8,-0.5 L4.8,19.5 L-4.8,19.5 L-4.8,-0.5 L-10,-0.5 Z" transform="translate(801.2,351.0) rotate(160)" fill="#ff0000" stroke="#303030" stroke-width="0.7" stroke-linejoin="miter"/>
<path d="M0,-19.5 L10,-0.5 L4.8,-0.5 L4.8,19.5 L-4.8,19.5 L-4.8,-0.5 L-10,-0.5 Z" transform="translate(809.8,344.5) rotate(120)" fill="#ff0000" stroke="#303030" stroke-width="0.7" stroke-linejoin="miter"/>
<path d="M0,-19.5 L10,-0.5 L4.8,-0.5 L4.8,19.5 L-4.8,19.5 L-4.8,-0.5 L-10,-0.5 Z" transform="translate(818.3,350.0) rotate(112)" fill="#ff0000" stroke="#303030" stroke-width="0.7" stroke-linejoin="miter"/>
<path d="M0,-19.5 L10,-0.5 L4.8,-0.5 L4.8,19.5 L-4.8,19.5 L-4.8,-0.5 L-10,-0.5 Z" transform="translate(826.8,332.7) rotate(90)" fill="#ff0000" stroke="#303030" stroke-width="0.7" stroke-linejoin="miter"/>
<path d="M0,-19.5 L10,-0.5 L4.8,-0.5 L4.8,19.5 L-4.8,19.5 L-4.8,-0.5 L-10,-0.5 Z" transform="translate(835.4,316.5) rotate(75)" fill="#ff0000" stroke="#303030" stroke-width="0.7" stroke-linejoin="miter"/>
<path d="M0,-19.5 L10,-0.5 L4.8,-0.5 L4.8,19.5 L-4.8,19.5 L-4.8,-0.5 L-10,-0.5 Z" transform="translate(843.9,314.0) rotate(72)" fill="#ff0000" stroke="#303030" stroke-width="0.7" stroke-linejoin="miter"/>
<path d="M0,-19.5 L10,-0.5 L4.8,-0.5 L4.8,19.5 L-4.8,19.5 L-4.8,-0.5 L-10,-0.5 Z" transform="translate(852.4,318.0) rotate(40)" fill="#ff0000" stroke="#303030" stroke-width="0.7" stroke-linejoin="miter"/>
<path d="M0,-19.5 L10,-0.5 L4.8,-0.5 L4.8,19.5 L-4.8,19.5 L-4.8,-0.5 L-10,-0.5 Z" transform="translate(861.0,323.0) rotate(0)" fill="#ff0000" stroke="#303030" stroke-width="0.7" stroke-linejoin="miter"/>
<path d="M0,-19.5 L10,-0.5 L4.8,-0.5 L4.8,19.5 L-4.8,19.5 L-4.8,-0.5 L-10,-0.5 Z" transform="translate(869.5,333.0) rotate(-65)" fill="#ff0000" stroke="#303030" stroke-width="0.7" stroke-linejoin="miter"/>
<path d="M0,-19.5 L10,-0.5 L4.8,-0.5 L4.8,19.5 L-4.8,19.5 L-4.8,-0.5 L-10,-0.5 Z" transform="translate(878.1,323.0) rotate(-90)" fill="#ff0000" stroke="#303030" stroke-width="0.7" stroke-linejoin="miter"/>
<path d="M0,-19.5 L10,-0.5 L4.8,-0.5 L4.8,19.5 L-4.8,19.5 L-4.8,-0.5 L-10,-0.5 Z" transform="translate(886.6,323.4) rotate(-90)" fill="#ff0000" stroke="#303030" stroke-width="0.7" stroke-linejoin="miter"/>
<path d="M0,-19.5 L10,-0.5 L4.8,-0.5 L4.8,19.5 L-4.8,19.5 L-4.8,-0.5 L-10,-0.5 Z" transform="translate(895.1,324.0) rotate(-100)" fill="#ff0000" stroke="#303030" stroke-width="0.7" stroke-linejoin="miter"/>
<path d="M0,-19.5 L10,-0.5 L4.8,-0.5 L4.8,19.5 L-4.8,19.5 L-4.8,-0.5 L-10,-0.5 Z" transform="translate(903.7,323.0) rotate(-115)" fill="#ff0000" stroke="#303030" stroke-width="0.7" stroke-linejoin="miter"/>
<path d="M0,-19.5 L10,-0.5 L4.8,-0.5 L4.8,19.5 L-4.8,19.5 L-4.8,-0.5 L-10,-0.5 Z" transform="translate(912.2,314.6) rotate(-136)" fill="#ff0000" stroke="#303030" stroke-width="0.7" stroke-linejoin="miter"/>
<path d="M0,-19.5 L10,-0.5 L4.8,-0.5 L4.8,19.5 L-4.8,19.5 L-4.8,-0.5 L-10,-0.5 Z" transform="translate(920.7,294.0) rotate(-134)" fill="#ffff00" stroke="#303030" stroke-width="0.7" stroke-linejoin="miter"/>
<path d="M0,-19.5 L10,-0.5 L4.8,-0.5 L4.8,19.5 L-4.8,19.5 L-4.8,-0.5 L-10,-0.5 Z" transform="translate(931.0,285.2) rotate(-8)" fill="#ffff00" stroke="#303030" stroke-width="0.7" stroke-linejoin="miter"/>
<path d="M0,-19.5 L10,-0.5 L4.8,-0.5 L4.8,19.5 L-4.8,19.5 L-4.8,-0.5 L-10,-0.5 Z" transform="translate(937.8,286.5) rotate(68)" fill="#ffff00" stroke="#303030" stroke-width="0.7" stroke-linejoin="miter"/>
<path d="M0,-19.5 L10,-0.5 L4.8,-0.5 L4.8,19.5 L-4.8,19.5 L-4.8,-0.5 L-10,-0.5 Z" transform="translate(946.3,287.5) rotate(55)" fill="#ffff00" stroke="#303030" stroke-width="0.7" stroke-linejoin="miter"/>
<path d="M0,-19.5 L10,-0.5 L4.8,-0.5 L4.8,19.5 L-4.8,19.5 L-4.8,-0.5 L-10,-0.5 Z" transform="translate(954.9,278.0) rotate(47)" fill="#ffff00" stroke="#303030" stroke-width="0.7" stroke-linejoin="miter"/>
<path d="M0,-19.5 L10,-0.5 L4.8,-0.5 L4.8,19.5 L-4.8,19.5 L-4.8,-0.5 L-10,-0.5 Z" transform="translate(963.4,260.0) rotate(25)" fill="#ffff00" stroke="#303030" stroke-width="0.7" stroke-linejoin="miter"/>
<path d="M0,-19.5 L10,-0.5 L4.8,-0.5 L4.8,19.5 L-4.8,19.5 L-4.8,-0.5 L-10,-0.5 Z" transform="translate(971.9,248.5) rotate(22)" fill="#ffff00" stroke="#303030" stroke-width="0.7" stroke-linejoin="miter"/>
<path d="M0,-19.5 L10,-0.5 L4.8,-0.5 L4.8,19.5 L-4.8,19.5 L-4.8,-0.5 L-10,-0.5 Z" transform="translate(980.5,238.5) rotate(0)" fill="#00ff00" stroke="#303030" stroke-width="0.7" stroke-linejoin="miter"/>
<path d="M0,-19.5 L10,-0.5 L4.8,-0.5 L4.8,19.5 L-4.8,19.5 L-4.8,-0.5 L-10,-0.5 Z" transform="translate(989.0,248.0) rotate(0)" fill="#ffff00" stroke="#303030" stroke-width="0.7" stroke-linejoin="miter"/>
<path d="M0,-19.5 L10,-0.5 L4.8,-0.5 L4.8,19.5 L-4.8,19.5 L-4.8,-0.5 L-10,-0.5 Z" transform="translate(997.6,256.2) rotate(-22)" fill="#ffff00" stroke="#303030" stroke-width="0.7" stroke-linejoin="miter"/>
<path d="M0,-19.5 L10,-0.5 L4.8,-0.5 L4.8,19.5 L-4.8,19.5 L-4.8,-0.5 L-10,-0.5 Z" transform="translate(1006.1,277.0) rotate(-26)" fill="#ffff00" stroke="#303030" stroke-width="0.7" stroke-linejoin="miter"/>
<path d="M0,-19.5 L10,-0.5 L4.8,-0.5 L4.8,19.5 L-4.8,19.5 L-4.8,-0.5 L-10,-0.5 Z" transform="translate(1014.6,275.5) rotate(-25)" fill="#ffff00" stroke="#303030" stroke-width="0.7" stroke-linejoin="miter"/>
</g>
<text transform="translate(19.8,267.2) rotate(-90)" font-size="22.67" text-anchor="middle" fill="#000" textLength="221" lengthAdjust="spacing">Wave Height - Metres</text>
<text transform="translate(1059.8,263.8) rotate(90)" font-size="22.67" text-anchor="middle" fill="#000" textLength="204" lengthAdjust="spacing">Wind Speed - Knots</text>
<text x="212.78" y="29.6" font-size="26.6" textLength="14.92" lengthAdjust="spacing" fill="#000">7</text>
<text x="235.72" y="29.6" font-size="26.6" textLength="40.56" lengthAdjust="spacing" fill="#000">day</text>
<text x="286.60" y="29.6" font-size="26.6" textLength="55.04" lengthAdjust="spacing" fill="#000">wind</text>
<text x="350.18" y="29.6" font-size="26.6" textLength="23.56" lengthAdjust="spacing" fill="#000">&amp;</text>
<text x="376.58" y="29.6" font-size="26.6" textLength="62.08" lengthAdjust="spacing" fill="#000">wave</text>
<text x="446.08" y="29.6" font-size="26.6" textLength="93.22" lengthAdjust="spacing" fill="#000">forecast</text>
<text x="550.10" y="29.6" font-size="26.6" textLength="30.72" lengthAdjust="spacing" fill="#000">for</text>
<text x="589.70" y="29.6" font-size="26.6" textLength="116.40" lengthAdjust="spacing" fill="#000">Somerton</text>
<text x="721.80" y="29.6" font-size="26.6" textLength="59.48" lengthAdjust="spacing" fill="#000">(Surf</text>
<text x="788.76" y="29.6" font-size="26.6" textLength="64.86" lengthAdjust="spacing" fill="#000">Spot)</text>
<text x="83.64" y="435" font-size="16" textLength="86.18" lengthAdjust="spacing" fill="#000">Wednesday</text>
<text x="110.20" y="459" font-size="17.6" textLength="37.60" lengthAdjust="spacing" fill="#808080">21st</text>
<text x="102.16" y="59" font-size="16.4" textLength="54.56" lengthAdjust="spacing" fill="#000">16-24°</text>
<g transform="translate(130.1,94.3)">
<path d="M-3.6,-12.5 Q-1.01,-19.75 0,-27 Q1.01,-19.75 3.6,-12.5 Z" transform="rotate(0.0)" fill="url(#ray)" stroke="#94721a" stroke-width="0.65"/>
<path d="M-3.0,-12.5 Q-0.84,-17.35 0,-22.2 Q0.84,-17.35 3.0,-12.5 Z" transform="rotate(22.5)" fill="url(#ray)" stroke="#94721a" stroke-width="0.65"/>
<path d="M-3.6,-12.5 Q-1.01,-19.25 0,-26 Q1.01,-19.25 3.6,-12.5 Z" transform="rotate(45.0)" fill="url(#ray)" stroke="#94721a" stroke-width="0.65"/>
<path d="M-3.0,-12.5 Q-0.84,-17.35 0,-22.2 Q0.84,-17.35 3.0,-12.5 Z" transform="rotate(67.5)" fill="url(#ray)" stroke="#94721a" stroke-width="0.65"/>
<path d="M-3.6,-12.5 Q-1.01,-19.75 0,-27 Q1.01,-19.75 3.6,-12.5 Z" transform="rotate(90.0)" fill="url(#ray)" stroke="#94721a" stroke-width="0.65"/>
<path d="M-3.0,-12.5 Q-0.84,-17.35 0,-22.2 Q0.84,-17.35 3.0,-12.5 Z" transform="rotate(112.5)" fill="url(#ray)" stroke="#94721a" stroke-width="0.65"/>
<path d="M-3.6,-12.5 Q-1.01,-19.25 0,-26 Q1.01,-19.25 3.6,-12.5 Z" transform="rotate(135.0)" fill="url(#ray)" stroke="#94721a" stroke-width="0.65"/>
<path d="M-3.0,-12.5 Q-0.84,-17.35 0,-22.2 Q0.84,-17.35 3.0,-12.5 Z" transform="rotate(157.5)" fill="url(#ray)" stroke="#94721a" stroke-width="0.65"/>
<path d="M-3.6,-12.5 Q-1.01,-19.75 0,-27 Q1.01,-19.75 3.6,-12.5 Z" transform="rotate(180.0)" fill="url(#ray)" stroke="#94721a" stroke-width="0.65"/>
<path d="M-3.0,-12.5 Q-0.84,-17.35 0,-22.2 Q0.84,-17.35 3.0,-12.5 Z" transform="rotate(202.5)" fill="url(#ray)" stroke="#94721a" stroke-width="0.65"/>
<path d="M-3.6,-12.5 Q-1.01,-19.25 0,-26 Q1.01,-19.25 3.6,-12.5 Z" transform="rotate(225.0)" fill="url(#ray)" stroke="#94721a" stroke-width="0.65"/>
<path d="M-3.0,-12.5 Q-0.84,-17.35 0,-22.2 Q0.84,-17.35 3.0,-12.5 Z" transform="rotate(247.5)" fill="url(#ray)" stroke="#94721a" stroke-width="0.65"/>
<path d="M-3.6,-12.5 Q-1.01,-19.75 0,-27 Q1.01,-19.75 3.6,-12.5 Z" transform="rotate(270.0)" fill="url(#ray)" stroke="#94721a" stroke-width="0.65"/>
<path d="M-3.0,-12.5 Q-0.84,-17.35 0,-22.2 Q0.84,-17.35 3.0,-12.5 Z" transform="rotate(292.5)" fill="url(#ray)" stroke="#94721a" stroke-width="0.65"/>
<path d="M-3.6,-12.5 Q-1.01,-19.25 0,-26 Q1.01,-19.25 3.6,-12.5 Z" transform="rotate(315.0)" fill="url(#ray)" stroke="#94721a" stroke-width="0.65"/>
<path d="M-3.0,-12.5 Q-0.84,-17.35 0,-22.2 Q0.84,-17.35 3.0,-12.5 Z" transform="rotate(337.5)" fill="url(#ray)" stroke="#94721a" stroke-width="0.65"/>
<circle r="14.3" fill="url(#sung)" stroke="#d08a18" stroke-width="0.6"/>
</g>
<g transform="translate(130.1,94.3)">
<path d="M-5.4,14.5 C-9.5,14.5 -11.6,12 -11.3,8.5 C-12,5 -11.6,1.5 -9.5,-0.8 C-8,-2.6 -5,-2.8 -2.9,-0.8 C-2,-4.5 2,-7 6.6,-6.9 C9.5,-7 12.5,-6 14.1,-4.2 C15.5,-5.6 18.5,-6 20.5,-5 C23,-4 24.6,-2 24.5,0 C26.5,0.5 27.8,2.5 27.3,5 C27.2,7.5 25.5,9.2 23.6,9.5 C23.5,12.5 22,14.5 19.5,14.5 Z" fill="url(#cloudg)" stroke="#555" stroke-width="0.7"/>
</g>
<text x="230.66" y="435" font-size="16" textLength="69.12" lengthAdjust="spacing" fill="#000">Thursday</text>
<text x="243.74" y="459" font-size="17.6" textLength="44.90" lengthAdjust="spacing" fill="#808080">22nd</text>
<text x="237.68" y="59" font-size="16.4" textLength="54.54" lengthAdjust="spacing" fill="#000">13-27°</text>
<g transform="translate(266.1,94.3)">
<path d="M-3.6,-12.5 Q-1.01,-19.75 0,-27 Q1.01,-19.75 3.6,-12.5 Z" transform="rotate(0.0)" fill="url(#ray)" stroke="#94721a" stroke-width="0.65"/>
<path d="M-3.0,-12.5 Q-0.84,-17.35 0,-22.2 Q0.84,-17.35 3.0,-12.5 Z" transform="rotate(22.5)" fill="url(#ray)" stroke="#94721a" stroke-width="0.65"/>
<path d="M-3.6,-12.5 Q-1.01,-19.25 0,-26 Q1.01,-19.25 3.6,-12.5 Z" transform="rotate(45.0)" fill="url(#ray)" stroke="#94721a" stroke-width="0.65"/>
<path d="M-3.0,-12.5 Q-0.84,-17.35 0,-22.2 Q0.84,-17.35 3.0,-12.5 Z" transform="rotate(67.5)" fill="url(#ray)" stroke="#94721a" stroke-width="0.65"/>
<path d="M-3.6,-12.5 Q-1.01,-19.75 0,-27 Q1.01,-19.75 3.6,-12.5 Z" transform="rotate(90.0)" fill="url(#ray)" stroke="#94721a" stroke-width="0.65"/>
<path d="M-3.0,-12.5 Q-0.84,-17.35 0,-22.2 Q0.84,-17.35 3.0,-12.5 Z" transform="rotate(112.5)" fill="url(#ray)" stroke="#94721a" stroke-width="0.65"/>
<path d="M-3.6,-12.5 Q-1.01,-19.25 0,-26 Q1.01,-19.25 3.6,-12.5 Z" transform="rotate(135.0)" fill="url(#ray)" stroke="#94721a" stroke-width="0.65"/>
<path d="M-3.0,-12.5 Q-0.84,-17.35 0,-22.2 Q0.84,-17.35 3.0,-12.5 Z" transform="rotate(157.5)" fill="url(#ray)" stroke="#94721a" stroke-width="0.65"/>
<path d="M-3.6,-12.5 Q-1.01,-19.75 0,-27 Q1.01,-19.75 3.6,-12.5 Z" transform="rotate(180.0)" fill="url(#ray)" stroke="#94721a" stroke-width="0.65"/>
<path d="M-3.0,-12.5 Q-0.84,-17.35 0,-22.2 Q0.84,-17.35 3.0,-12.5 Z" transform="rotate(202.5)" fill="url(#ray)" stroke="#94721a" stroke-width="0.65"/>
<path d="M-3.6,-12.5 Q-1.01,-19.25 0,-26 Q1.01,-19.25 3.6,-12.5 Z" transform="rotate(225.0)" fill="url(#ray)" stroke="#94721a" stroke-width="0.65"/>
<path d="M-3.0,-12.5 Q-0.84,-17.35 0,-22.2 Q0.84,-17.35 3.0,-12.5 Z" transform="rotate(247.5)" fill="url(#ray)" stroke="#94721a" stroke-width="0.65"/>
<path d="M-3.6,-12.5 Q-1.01,-19.75 0,-27 Q1.01,-19.75 3.6,-12.5 Z" transform="rotate(270.0)" fill="url(#ray)" stroke="#94721a" stroke-width="0.65"/>
<path d="M-3.0,-12.5 Q-0.84,-17.35 0,-22.2 Q0.84,-17.35 3.0,-12.5 Z" transform="rotate(292.5)" fill="url(#ray)" stroke="#94721a" stroke-width="0.65"/>
<path d="M-3.6,-12.5 Q-1.01,-19.25 0,-26 Q1.01,-19.25 3.6,-12.5 Z" transform="rotate(315.0)" fill="url(#ray)" stroke="#94721a" stroke-width="0.65"/>
<path d="M-3.0,-12.5 Q-0.84,-17.35 0,-22.2 Q0.84,-17.35 3.0,-12.5 Z" transform="rotate(337.5)" fill="url(#ray)" stroke="#94721a" stroke-width="0.65"/>
<circle r="14.3" fill="url(#sung)" stroke="#d08a18" stroke-width="0.6"/>
</g>
<text x="378.72" y="435" font-size="16" textLength="46.06" lengthAdjust="spacing" fill="#000">Friday</text>
<text x="382.18" y="459" font-size="17.6" textLength="41.46" lengthAdjust="spacing" fill="#808080">23rd</text>
<text x="374.72" y="59" font-size="16.4" textLength="54.98" lengthAdjust="spacing" fill="#000">16-33°</text>
<g transform="translate(402.7,94.3)">
<path d="M-3.6,-12.5 Q-1.01,-19.75 0,-27 Q1.01,-19.75 3.6,-12.5 Z" transform="rotate(0.0)" fill="url(#ray)" stroke="#94721a" stroke-width="0.65"/>
<path d="M-3.0,-12.5 Q-0.84,-17.35 0,-22.2 Q0.84,-17.35 3.0,-12.5 Z" transform="rotate(22.5)" fill="url(#ray)" stroke="#94721a" stroke-width="0.65"/>
<path d="M-3.6,-12.5 Q-1.01,-19.25 0,-26 Q1.01,-19.25 3.6,-12.5 Z" transform="rotate(45.0)" fill="url(#ray)" stroke="#94721a" stroke-width="0.65"/>
<path d="M-3.0,-12.5 Q-0.84,-17.35 0,-22.2 Q0.84,-17.35 3.0,-12.5 Z" transform="rotate(67.5)" fill="url(#ray)" stroke="#94721a" stroke-width="0.65"/>
<path d="M-3.6,-12.5 Q-1.01,-19.75 0,-27 Q1.01,-19.75 3.6,-12.5 Z" transform="rotate(90.0)" fill="url(#ray)" stroke="#94721a" stroke-width="0.65"/>
<path d="M-3.0,-12.5 Q-0.84,-17.35 0,-22.2 Q0.84,-17.35 3.0,-12.5 Z" transform="rotate(112.5)" fill="url(#ray)" stroke="#94721a" stroke-width="0.65"/>
<path d="M-3.6,-12.5 Q-1.01,-19.25 0,-26 Q1.01,-19.25 3.6,-12.5 Z" transform="rotate(135.0)" fill="url(#ray)" stroke="#94721a" stroke-width="0.65"/>
<path d="M-3.0,-12.5 Q-0.84,-17.35 0,-22.2 Q0.84,-17.35 3.0,-12.5 Z" transform="rotate(157.5)" fill="url(#ray)" stroke="#94721a" stroke-width="0.65"/>
<path d="M-3.6,-12.5 Q-1.01,-19.75 0,-27 Q1.01,-19.75 3.6,-12.5 Z" transform="rotate(180.0)" fill="url(#ray)" stroke="#94721a" stroke-width="0.65"/>
<path d="M-3.0,-12.5 Q-0.84,-17.35 0,-22.2 Q0.84,-17.35 3.0,-12.5 Z" transform="rotate(202.5)" fill="url(#ray)" stroke="#94721a" stroke-width="0.65"/>
<path d="M-3.6,-12.5 Q-1.01,-19.25 0,-26 Q1.01,-19.25 3.6,-12.5 Z" transform="rotate(225.0)" fill="url(#ray)" stroke="#94721a" stroke-width="0.65"/>
<path d="M-3.0,-12.5 Q-0.84,-17.35 0,-22.2 Q0.84,-17.35 3.0,-12.5 Z" transform="rotate(247.5)" fill="url(#ray)" stroke="#94721a" stroke-width="0.65"/>
<path d="M-3.6,-12.5 Q-1.01,-19.75 0,-27 Q1.01,-19.75 3.6,-12.5 Z" transform="rotate(270.0)" fill="url(#ray)" stroke="#94721a" stroke-width="0.65"/>
<path d="M-3.0,-12.5 Q-0.84,-17.35 0,-22.2 Q0.84,-17.35 3.0,-12.5 Z" transform="rotate(292.5)" fill="url(#ray)" stroke="#94721a" stroke-width="0.65"/>
<path d="M-3.6,-12.5 Q-1.01,-19.25 0,-26 Q1.01,-19.25 3.6,-12.5 Z" transform="rotate(315.0)" fill="url(#ray)" stroke="#94721a" stroke-width="0.65"/>
<path d="M-3.0,-12.5 Q-0.84,-17.35 0,-22.2 Q0.84,-17.35 3.0,-12.5 Z" transform="rotate(337.5)" fill="url(#ray)" stroke="#94721a" stroke-width="0.65"/>
<circle r="14.3" fill="url(#sung)" stroke="#d08a18" stroke-width="0.6"/>
</g>
<text x="505.64" y="435" font-size="16" textLength="69.12" lengthAdjust="spacing" fill="#000" font-weight="bold">Saturday</text>
<text x="519.22" y="459" font-size="17.6" textLength="39.96" lengthAdjust="spacing" fill="#808080">24th</text>
<text x="510.72" y="59" font-size="16.4" textLength="55.50" lengthAdjust="spacing" fill="#000">25-40°</text>
<g transform="translate(539.3,94.3)">
<path d="M-3.6,-12.5 Q-1.01,-19.75 0,-27 Q1.01,-19.75 3.6,-12.5 Z" transform="rotate(0.0)" fill="url(#ray)" stroke="#94721a" stroke-width="0.65"/>
<path d="M-3.0,-12.5 Q-0.84,-17.35 0,-22.2 Q0.84,-17.35 3.0,-12.5 Z" transform="rotate(22.5)" fill="url(#ray)" stroke="#94721a" stroke-width="0.65"/>
<path d="M-3.6,-12.5 Q-1.01,-19.25 0,-26 Q1.01,-19.25 3.6,-12.5 Z" transform="rotate(45.0)" fill="url(#ray)" stroke="#94721a" stroke-width="0.65"/>
<path d="M-3.0,-12.5 Q-0.84,-17.35 0,-22.2 Q0.84,-17.35 3.0,-12.5 Z" transform="rotate(67.5)" fill="url(#ray)" stroke="#94721a" stroke-width="0.65"/>
<path d="M-3.6,-12.5 Q-1.01,-19.75 0,-27 Q1.01,-19.75 3.6,-12.5 Z" transform="rotate(90.0)" fill="url(#ray)" stroke="#94721a" stroke-width="0.65"/>
<path d="M-3.0,-12.5 Q-0.84,-17.35 0,-22.2 Q0.84,-17.35 3.0,-12.5 Z" transform="rotate(112.5)" fill="url(#ray)" stroke="#94721a" stroke-width="0.65"/>
<path d="M-3.6,-12.5 Q-1.01,-19.25 0,-26 Q1.01,-19.25 3.6,-12.5 Z" transform="rotate(135.0)" fill="url(#ray)" stroke="#94721a" stroke-width="0.65"/>
<path d="M-3.0,-12.5 Q-0.84,-17.35 0,-22.2 Q0.84,-17.35 3.0,-12.5 Z" transform="rotate(157.5)" fill="url(#ray)" stroke="#94721a" stroke-width="0.65"/>
<path d="M-3.6,-12.5 Q-1.01,-19.75 0,-27 Q1.01,-19.75 3.6,-12.5 Z" transform="rotate(180.0)" fill="url(#ray)" stroke="#94721a" stroke-width="0.65"/>
<path d="M-3.0,-12.5 Q-0.84,-17.35 0,-22.2 Q0.84,-17.35 3.0,-12.5 Z" transform="rotate(202.5)" fill="url(#ray)" stroke="#94721a" stroke-width="0.65"/>
<path d="M-3.6,-12.5 Q-1.01,-19.25 0,-26 Q1.01,-19.25 3.6,-12.5 Z" transform="rotate(225.0)" fill="url(#ray)" stroke="#94721a" stroke-width="0.65"/>
<path d="M-3.0,-12.5 Q-0.84,-17.35 0,-22.2 Q0.84,-17.35 3.0,-12.5 Z" transform="rotate(247.5)" fill="url(#ray)" stroke="#94721a" stroke-width="0.65"/>
<path d="M-3.6,-12.5 Q-1.01,-19.75 0,-27 Q1.01,-19.75 3.6,-12.5 Z" transform="rotate(270.0)" fill="url(#ray)" stroke="#94721a" stroke-width="0.65"/>
<path d="M-3.0,-12.5 Q-0.84,-17.35 0,-22.2 Q0.84,-17.35 3.0,-12.5 Z" transform="rotate(292.5)" fill="url(#ray)" stroke="#94721a" stroke-width="0.65"/>
<path d="M-3.6,-12.5 Q-1.01,-19.25 0,-26 Q1.01,-19.25 3.6,-12.5 Z" transform="rotate(315.0)" fill="url(#ray)" stroke="#94721a" stroke-width="0.65"/>
<path d="M-3.0,-12.5 Q-0.84,-17.35 0,-22.2 Q0.84,-17.35 3.0,-12.5 Z" transform="rotate(337.5)" fill="url(#ray)" stroke="#94721a" stroke-width="0.65"/>
<circle r="14.3" fill="url(#sung)" stroke="#d08a18" stroke-width="0.6"/>
</g>
<g transform="translate(539.3,94.3)">
<path d="M-5.4,14.5 C-9.5,14.5 -11.6,12 -11.3,8.5 C-12,5 -11.6,1.5 -9.5,-0.8 C-8,-2.6 -5,-2.8 -2.9,-0.8 C-2,-4.5 2,-7 6.6,-6.9 C9.5,-7 12.5,-6 14.1,-4.2 C15.5,-5.6 18.5,-6 20.5,-5 C23,-4 24.6,-2 24.5,0 C26.5,0.5 27.8,2.5 27.3,5 C27.2,7.5 25.5,9.2 23.6,9.5 C23.5,12.5 22,14.5 19.5,14.5 Z" fill="url(#cloudg)" stroke="#555" stroke-width="0.7"/>
</g>
<text x="647.16" y="435" font-size="16" textLength="57.10" lengthAdjust="spacing" fill="#000" font-weight="bold">Sunday</text>
<text x="656.22" y="459" font-size="17.6" textLength="39.48" lengthAdjust="spacing" fill="#808080">25th</text>
<text x="646.72" y="59" font-size="16.4" textLength="56.46" lengthAdjust="spacing" fill="#000">20-34°</text>
<g transform="translate(676.0,94.3)">
<path d="M-3.6,-12.5 Q-1.01,-19.75 0,-27 Q1.01,-19.75 3.6,-12.5 Z" transform="rotate(0.0)" fill="url(#ray)" stroke="#94721a" stroke-width="0.65"/>
<path d="M-3.0,-12.5 Q-0.84,-17.35 0,-22.2 Q0.84,-17.35 3.0,-12.5 Z" transform="rotate(22.5)" fill="url(#ray)" stroke="#94721a" stroke-width="0.65"/>
<path d="M-3.6,-12.5 Q-1.01,-19.25 0,-26 Q1.01,-19.25 3.6,-12.5 Z" transform="rotate(45.0)" fill="url(#ray)" stroke="#94721a" stroke-width="0.65"/>
<path d="M-3.0,-12.5 Q-0.84,-17.35 0,-22.2 Q0.84,-17.35 3.0,-12.5 Z" transform="rotate(67.5)" fill="url(#ray)" stroke="#94721a" stroke-width="0.65"/>
<path d="M-3.6,-12.5 Q-1.01,-19.75 0,-27 Q1.01,-19.75 3.6,-12.5 Z" transform="rotate(90.0)" fill="url(#ray)" stroke="#94721a" stroke-width="0.65"/>
<path d="M-3.0,-12.5 Q-0.84,-17.35 0,-22.2 Q0.84,-17.35 3.0,-12.5 Z" transform="rotate(112.5)" fill="url(#ray)" stroke="#94721a" stroke-width="0.65"/>
<path d="M-3.6,-12.5 Q-1.01,-19.25 0,-26 Q1.01,-19.25 3.6,-12.5 Z" transform="rotate(135.0)" fill="url(#ray)" stroke="#94721a" stroke-width="0.65"/>
<path d="M-3.0,-12.5 Q-0.84,-17.35 0,-22.2 Q0.84,-17.35 3.0,-12.5 Z" transform="rotate(157.5)" fill="url(#ray)" stroke="#94721a" stroke-width="0.65"/>
<path d="M-3.6,-12.5 Q-1.01,-19.75 0,-27 Q1.01,-19.75 3.6,-12.5 Z" transform="rotate(180.0)" fill="url(#ray)" stroke="#94721a" stroke-width="0.65"/>
<path d="M-3.0,-12.5 Q-0.84,-17.35 0,-22.2 Q0.84,-17.35 3.0,-12.5 Z" transform="rotate(202.5)" fill="url(#ray)" stroke="#94721a" stroke-width="0.65"/>
<path d="M-3.6,-12.5 Q-1.01,-19.25 0,-26 Q1.01,-19.25 3.6,-12.5 Z" transform="rotate(225.0)" fill="url(#ray)" stroke="#94721a" stroke-width="0.65"/>
<path d="M-3.0,-12.5 Q-0.84,-17.35 0,-22.2 Q0.84,-17.35 3.0,-12.5 Z" transform="rotate(247.5)" fill="url(#ray)" stroke="#94721a" stroke-width="0.65"/>
<path d="M-3.6,-12.5 Q-1.01,-19.75 0,-27 Q1.01,-19.75 3.6,-12.5 Z" transform="rotate(270.0)" fill="url(#ray)" stroke="#94721a" stroke-width="0.65"/>
<path d="M-3.0,-12.5 Q-0.84,-17.35 0,-22.2 Q0.84,-17.35 3.0,-12.5 Z" transform="rotate(292.5)" fill="url(#ray)" stroke="#94721a" stroke-width="0.65"/>
<path d="M-3.6,-12.5 Q-1.01,-19.25 0,-26 Q1.01,-19.25 3.6,-12.5 Z" transform="rotate(315.0)" fill="url(#ray)" stroke="#94721a" stroke-width="0.65"/>
<path d="M-3.0,-12.5 Q-0.84,-17.35 0,-22.2 Q0.84,-17.35 3.0,-12.5 Z" transform="rotate(337.5)" fill="url(#ray)" stroke="#94721a" stroke-width="0.65"/>
<circle r="14.3" fill="url(#sung)" stroke="#d08a18" stroke-width="0.6"/>
</g>
<text x="781.16" y="435" font-size="16" textLength="57.16" lengthAdjust="spacing" fill="#000">Monday</text>
<text x="793.16" y="459" font-size="17.6" textLength="38.56" lengthAdjust="spacing" fill="#808080">26th</text>
<text x="783.68" y="59" font-size="16.4" textLength="56.02" lengthAdjust="spacing" fill="#000">20-39°</text>
<g transform="translate(812.6,94.3)">
<path d="M-3.6,-12.5 Q-1.01,-19.75 0,-27 Q1.01,-19.75 3.6,-12.5 Z" transform="rotate(0.0)" fill="url(#ray)" stroke="#94721a" stroke-width="0.65"/>
<path d="M-3.0,-12.5 Q-0.84,-17.35 0,-22.2 Q0.84,-17.35 3.0,-12.5 Z" transform="rotate(22.5)" fill="url(#ray)" stroke="#94721a" stroke-width="0.65"/>
<path d="M-3.6,-12.5 Q-1.01,-19.25 0,-26 Q1.01,-19.25 3.6,-12.5 Z" transform="rotate(45.0)" fill="url(#ray)" stroke="#94721a" stroke-width="0.65"/>
<path d="M-3.0,-12.5 Q-0.84,-17.35 0,-22.2 Q0.84,-17.35 3.0,-12.5 Z" transform="rotate(67.5)" fill="url(#ray)" stroke="#94721a" stroke-width="0.65"/>
<path d="M-3.6,-12.5 Q-1.01,-19.75 0,-27 Q1.01,-19.75 3.6,-12.5 Z" transform="rotate(90.0)" fill="url(#ray)" stroke="#94721a" stroke-width="0.65"/>
<path d="M-3.0,-12.5 Q-0.84,-17.35 0,-22.2 Q0.84,-17.35 3.0,-12.5 Z" transform="rotate(112.5)" fill="url(#ray)" stroke="#94721a" stroke-width="0.65"/>
<path d="M-3.6,-12.5 Q-1.01,-19.25 0,-26 Q1.01,-19.25 3.6,-12.5 Z" transform="rotate(135.0)" fill="url(#ray)" stroke="#94721a" stroke-width="0.65"/>
<path d="M-3.0,-12.5 Q-0.84,-17.35 0,-22.2 Q0.84,-17.35 3.0,-12.5 Z" transform="rotate(157.5)" fill="url(#ray)" stroke="#94721a" stroke-width="0.65"/>
<path d="M-3.6,-12.5 Q-1.01,-19.75 0,-27 Q1.01,-19.75 3.6,-12.5 Z" transform="rotate(180.0)" fill="url(#ray)" stroke="#94721a" stroke-width="0.65"/>
<path d="M-3.0,-12.5 Q-0.84,-17.35 0,-22.2 Q0.84,-17.35 3.0,-12.5 Z" transform="rotate(202.5)" fill="url(#ray)" stroke="#94721a" stroke-width="0.65"/>
<path d="M-3.6,-12.5 Q-1.01,-19.25 0,-26 Q1.01,-19.25 3.6,-12.5 Z" transform="rotate(225.0)" fill="url(#ray)" stroke="#94721a" stroke-width="0.65"/>
<path d="M-3.0,-12.5 Q-0.84,-17.35 0,-22.2 Q0.84,-17.35 3.0,-12.5 Z" transform="rotate(247.5)" fill="url(#ray)" stroke="#94721a" stroke-width="0.65"/>
<path d="M-3.6,-12.5 Q-1.01,-19.75 0,-27 Q1.01,-19.75 3.6,-12.5 Z" transform="rotate(270.0)" fill="url(#ray)" stroke="#94721a" stroke-width="0.65"/>
<path d="M-3.0,-12.5 Q-0.84,-17.35 0,-22.2 Q0.84,-17.35 3.0,-12.5 Z" transform="rotate(292.5)" fill="url(#ray)" stroke="#94721a" stroke-width="0.65"/>
<path d="M-3.6,-12.5 Q-1.01,-19.25 0,-26 Q1.01,-19.25 3.6,-12.5 Z" transform="rotate(315.0)" fill="url(#ray)" stroke="#94721a" stroke-width="0.65"/>
<path d="M-3.0,-12.5 Q-0.84,-17.35 0,-22.2 Q0.84,-17.35 3.0,-12.5 Z" transform="rotate(337.5)" fill="url(#ray)" stroke="#94721a" stroke-width="0.65"/>
<circle r="14.3" fill="url(#sung)" stroke="#d08a18" stroke-width="0.6"/>
</g>
<text x="917.62" y="435" font-size="16" textLength="63.16" lengthAdjust="spacing" fill="#000">Tuesday</text>
<text x="929.16" y="459" font-size="17.6" textLength="40.50" lengthAdjust="spacing" fill="#808080">27th</text>
<text x="919.68" y="59" font-size="16.4" textLength="56.02" lengthAdjust="spacing" fill="#000">26-35°</text>
<g transform="translate(949.2,94.3)">
<path d="M-3.6,-12.5 Q-1.01,-19.75 0,-27 Q1.01,-19.75 3.6,-12.5 Z" transform="rotate(0.0)" fill="url(#ray)" stroke="#94721a" stroke-width="0.65"/>
<path d="M-3.0,-12.5 Q-0.84,-17.35 0,-22.2 Q0.84,-17.35 3.0,-12.5 Z" transform="rotate(22.5)" fill="url(#ray)" stroke="#94721a" stroke-width="0.65"/>
<path d="M-3.6,-12.5 Q-1.01,-19.25 0,-26 Q1.01,-19.25 3.6,-12.5 Z" transform="rotate(45.0)" fill="url(#ray)" stroke="#94721a" stroke-width="0.65"/>
<path d="M-3.0,-12.5 Q-0.84,-17.35 0,-22.2 Q0.84,-17.35 3.0,-12.5 Z" transform="rotate(67.5)" fill="url(#ray)" stroke="#94721a" stroke-width="0.65"/>
<path d="M-3.6,-12.5 Q-1.01,-19.75 0,-27 Q1.01,-19.75 3.6,-12.5 Z" transform="rotate(90.0)" fill="url(#ray)" stroke="#94721a" stroke-width="0.65"/>
<path d="M-3.0,-12.5 Q-0.84,-17.35 0,-22.2 Q0.84,-17.35 3.0,-12.5 Z" transform="rotate(112.5)" fill="url(#ray)" stroke="#94721a" stroke-width="0.65"/>
<path d="M-3.6,-12.5 Q-1.01,-19.25 0,-26 Q1.01,-19.25 3.6,-12.5 Z" transform="rotate(135.0)" fill="url(#ray)" stroke="#94721a" stroke-width="0.65"/>
<path d="M-3.0,-12.5 Q-0.84,-17.35 0,-22.2 Q0.84,-17.35 3.0,-12.5 Z" transform="rotate(157.5)" fill="url(#ray)" stroke="#94721a" stroke-width="0.65"/>
<path d="M-3.6,-12.5 Q-1.01,-19.75 0,-27 Q1.01,-19.75 3.6,-12.5 Z" transform="rotate(180.0)" fill="url(#ray)" stroke="#94721a" stroke-width="0.65"/>
<path d="M-3.0,-12.5 Q-0.84,-17.35 0,-22.2 Q0.84,-17.35 3.0,-12.5 Z" transform="rotate(202.5)" fill="url(#ray)" stroke="#94721a" stroke-width="0.65"/>
<path d="M-3.6,-12.5 Q-1.01,-19.25 0,-26 Q1.01,-19.25 3.6,-12.5 Z" transform="rotate(225.0)" fill="url(#ray)" stroke="#94721a" stroke-width="0.65"/>
<path d="M-3.0,-12.5 Q-0.84,-17.35 0,-22.2 Q0.84,-17.35 3.0,-12.5 Z" transform="rotate(247.5)" fill="url(#ray)" stroke="#94721a" stroke-width="0.65"/>
<path d="M-3.6,-12.5 Q-1.01,-19.75 0,-27 Q1.01,-19.75 3.6,-12.5 Z" transform="rotate(270.0)" fill="url(#ray)" stroke="#94721a" stroke-width="0.65"/>
<path d="M-3.0,-12.5 Q-0.84,-17.35 0,-22.2 Q0.84,-17.35 3.0,-12.5 Z" transform="rotate(292.5)" fill="url(#ray)" stroke="#94721a" stroke-width="0.65"/>
<path d="M-3.6,-12.5 Q-1.01,-19.25 0,-26 Q1.01,-19.25 3.6,-12.5 Z" transform="rotate(315.0)" fill="url(#ray)" stroke="#94721a" stroke-width="0.65"/>
<path d="M-3.0,-12.5 Q-0.84,-17.35 0,-22.2 Q0.84,-17.35 3.0,-12.5 Z" transform="rotate(337.5)" fill="url(#ray)" stroke="#94721a" stroke-width="0.65"/>
<circle r="14.3" fill="url(#sung)" stroke="#d08a18" stroke-width="0.6"/>
</g>
<g transform="translate(949.2,94.3)">
<path d="M-5.4,14.5 C-9.5,14.5 -11.6,12 -11.3,8.5 C-12,5 -11.6,1.5 -9.5,-0.8 C-8,-2.6 -5,-2.8 -2.9,-0.8 C-2,-4.5 2,-7 6.6,-6.9 C9.5,-7 12.5,-6 14.1,-4.2 C15.5,-5.6 18.5,-6 20.5,-5 C23,-4 24.6,-2 24.5,0 C26.5,0.5 27.8,2.5 27.3,5 C27.2,7.5 25.5,9.2 23.6,9.5 C23.5,12.5 22,14.5 19.5,14.5 Z" fill="url(#cloudg)" stroke="#555" stroke-width="0.7"/>
</g>
</svg></body></html>
